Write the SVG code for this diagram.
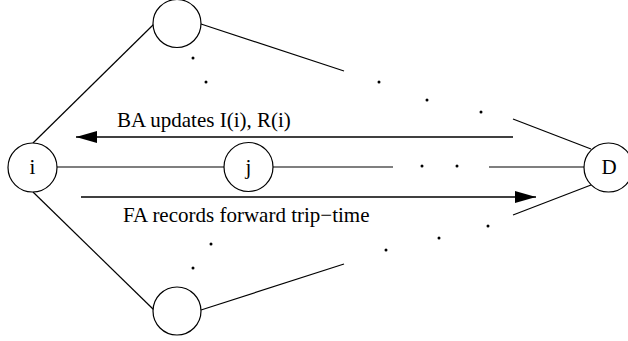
<svg xmlns="http://www.w3.org/2000/svg" width="628" height="341" viewBox="0 0 628 341">
<style>
.n{fill:#fff;stroke:#000;stroke-width:1.2}
.e{stroke:#000;stroke-width:1.2;fill:none}
.a{stroke:#000;stroke-width:1.4;fill:none}
.t{font-family:"Liberation Serif","Times New Roman",serif;font-size:21px;fill:#000}
.d{fill:#000}
</style>
<defs>
<marker id="ah" markerUnits="userSpaceOnUse" markerWidth="22" markerHeight="12" refX="21" refY="6" orient="auto">
<path d="M0,0 L21,6 L0,12 Z" fill="#000"/>
</marker>
</defs>
<rect width="628" height="341" fill="#fff"/>
<g id="connectors">
<line class="e" x1="33" y1="143" x2="154" y2="24"/>
<line class="e" x1="33" y1="192" x2="154" y2="310"/>
<line class="e" x1="201" y1="24" x2="344" y2="71"/>
<line class="e" x1="201" y1="310" x2="344" y2="264"/>
<line class="e" x1="513" y1="119" x2="591" y2="149"/>
<line class="e" x1="513" y1="215" x2="591" y2="185"/>
<line class="e" x1="57" y1="167" x2="224" y2="167"/>
<line class="e" x1="273" y1="167" x2="393" y2="167"/>
<line class="e" x1="489" y1="167" x2="584" y2="167"/>
<line class="a" x1="513" y1="137" x2="76" y2="137" marker-end="url(#ah)"/>
<line class="a" x1="81" y1="197" x2="536" y2="197" marker-end="url(#ah)"/>
<g id="dots">
<circle class="d" cx="193" cy="58" r="1.5"/>
<circle class="d" cx="206" cy="82" r="1.5"/>
<circle class="d" cx="379" cy="82" r="1.5"/>
<circle class="d" cx="427" cy="100" r="1.5"/>
<circle class="d" cx="481" cy="112" r="1.5"/>
<circle class="d" cx="422" cy="166" r="1.5"/>
<circle class="d" cx="457" cy="166" r="1.5"/>
<circle class="d" cx="211" cy="244" r="1.5"/>
<circle class="d" cx="193" cy="268" r="1.5"/>
<circle class="d" cx="386" cy="250" r="1.5"/>
<circle class="d" cx="439" cy="238" r="1.5"/>
<circle class="d" cx="488" cy="226" r="1.5"/>
</g>
<text class="t" x="117" y="127">BA updates I(i), R(i)</text>
<text class="t" x="123" y="222">FA records forward trip−time</text>
</g>
<g id="node-top"><circle class="n" cx="177" cy="23.5" r="24"/></g>
<g id="node-bottom"><circle class="n" cx="177" cy="311" r="24"/></g>
<g id="node-i"><circle class="n" cx="32.5" cy="167.5" r="24.5"/><text class="t" x="32.5" y="174" text-anchor="middle">i</text></g>
<g id="node-j"><circle class="n" cx="248.5" cy="167" r="24.5"/><text class="t" x="248.5" y="174" text-anchor="middle">j</text></g>
<g id="node-D"><circle class="n" cx="608.5" cy="167.5" r="24.5"/><text class="t" x="609" y="174" text-anchor="middle">D</text></g>
</svg>
